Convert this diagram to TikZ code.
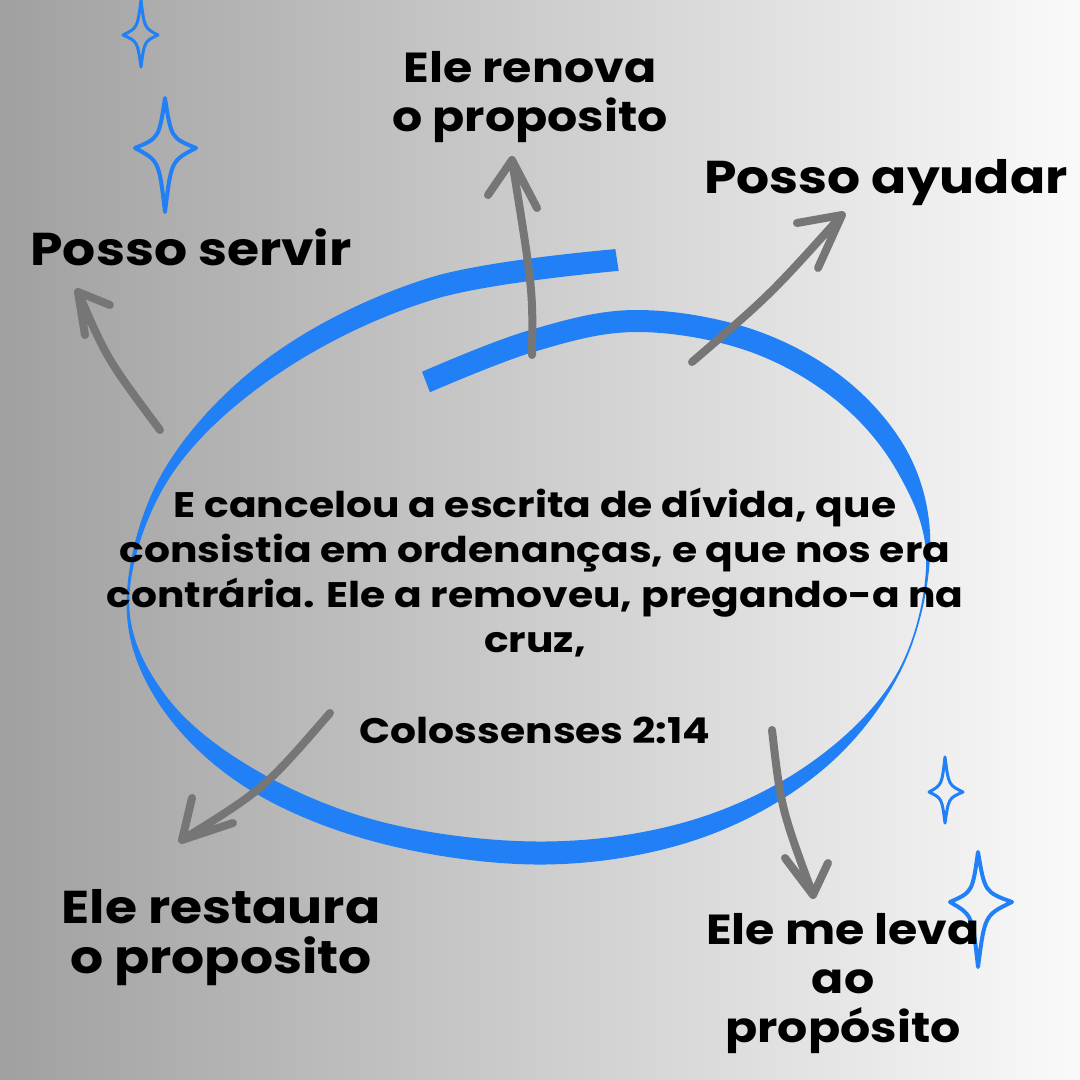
\documentclass[tikz,border=0pt]{standalone}
\usepackage{fontspec}
\setmainfont{Poppins}
\newfontfamily\tagfont{Poppins}[FakeStretch=1.13]
\newfontfamily\versefont{Poppins}[FakeStretch=1.15]
\usetikzlibrary{calc}

\definecolor{swirlblue}{RGB}{33,128,246}
\definecolor{arrowgray}{RGB}{118,118,118}
\definecolor{bgleft}{RGB}{160,160,160}
\definecolor{bgright}{RGB}{250,250,250}

\tikzset{
  tagtext/.style={font=\tagfont\fontsize{46}{50}\selectfont\bfseries, align=center, inner sep=0pt},
  smalltag/.style={tagtext, font=\tagfont\fontsize{42}{49}\selectfont\bfseries},
  versetext/.style={font=\versefont\fontsize{35.5}{45}\selectfont\bfseries, align=center, inner sep=0pt},
  curvearrow/.style={draw=arrowgray, line width=8pt, line cap=round, line join=round},
  sparkle/.style={draw=swirlblue, line cap=round, line join=round}
}

\begin{document}
\begin{tikzpicture}[x=1pt,y=-1pt]
	\useasboundingbox (0,0) rectangle (1080,1080);
	\shade[left color=bgleft, right color=bgright] (0,0) rectangle (1080,1080);
	% swirl: centre line as quarter arcs, points picked along it
	\path (617,260) coordinate (c0)
		.. controls (363,260) and (128,422) .. coordinate[pos=0.25] (c1) coordinate[pos=0.5] (c2) coordinate[pos=0.75] (c3) (128,598) coordinate (c4)
		.. controls (128,739) and (315,853) .. coordinate[pos=0.25] (c5) coordinate[pos=0.5] (c6) coordinate[pos=0.75] (c7) (545,853) coordinate (c8)
		.. controls (756,853) and (928,722) .. coordinate[pos=0.25] (c9) coordinate[pos=0.5] (c10) coordinate[pos=0.75] (c11) (928,560) coordinate (c12)
		.. controls (928,428) and (797,321) .. coordinate[pos=0.25] (c13) coordinate[pos=0.5] (c14) coordinate[pos=0.75] (c15) (635,321) coordinate (c16)
		.. controls (565,321) and (496,355) .. coordinate[pos=0.5] (c17) (426,382) coordinate (c18);
	\foreach \i/\p/\n/\w in {0/0/1/11, 1/0/2/11, 2/1/3/9.5, 3/2/4/4.5, 4/3/5/1.3, 5/4/6/5, 6/5/7/10, 7/6/8/10.5, 8/7/9/11.5, 9/8/10/10, 10/9/11/6.5, 11/10/12/1.2, 12/11/13/1.8, 13/12/14/9, 14/13/15/11, 15/14/16/11, 16/15/17/11, 17/16/18/11, 18/17/18/11}
	{
		\coordinate (u\i) at ($(c\p)!\w pt!90:(c\n)$);
		\coordinate (v\i) at ($(c\p)!\w pt!-90:(c\n)$);
		\coordinate (L\i) at ($(c\i)+(u\i)-(c\p)$);
		\coordinate (R\i) at ($(c\i)+(v\i)-(c\p)$);
	}
	\fill[swirlblue] plot[smooth, tension=0.6] coordinates {(L0) (L1) (L2) (L3) (L4) (L5) (L6) (L7) (L8) (L9) (L10) (L11) (L12) (L13) (L14) (L15) (L16) (L17) (L18)}
		-- plot[smooth, tension=0.6] coordinates {(R18) (R17) (R16) (R15) (R14) (R13) (R12) (R11) (R10) (R9) (R8) (R7) (R6) (R5) (R4) (R3) (R2) (R1) (R0)} -- cycle;
	% sparkles
	\foreach \cx/\cy/\u/\d/\l/\r/\lw in {141/35/35/32/18/17/3, 165/148/50/64/30/31/4, 945/792/35/31/16/18/3, 978/902/50/65/28/34/4}
		\draw[sparkle, line width=\lw pt] (\cx,\cy-\u) .. controls (\cx+0.2*\r,\cy-0.2*\u) .. (\cx+\r,\cy) .. controls (\cx+0.2*\r,\cy+0.2*\d) .. (\cx,\cy+\d) .. controls (\cx-0.2*\l,\cy+0.2*\d) .. (\cx-\l,\cy) .. controls (\cx-0.2*\l,\cy-0.2*\u) .. (\cx,\cy-\u) -- cycle;
	% arrows out of the swirl
	\coordinate (renovaFoot) at (532,355);
	\coordinate (renovaTip) at (512,160);
	\coordinate (ayudarFoot) at (692,362);
	\coordinate (ayudarTip) at (842,215);
	\coordinate (servirFoot) at (160,430);
	\coordinate (servirTip) at (78,292);
	\coordinate (restauraFoot) at (330,713);
	\coordinate (restauraTip) at (182,840);
	\coordinate (levaFoot) at (772,730);
	\coordinate (levaTip) at (813,895);
	\draw[curvearrow] (renovaFoot) .. controls (533,290) .. (renovaTip) -- +(-24,35) (renovaTip) -- +(25,48);
	\draw[curvearrow] (ayudarFoot) .. controls (770,295) .. (ayudarTip) -- +(-45,8) (ayudarTip) -- +(-24,53);
	\draw[curvearrow] (servirFoot) .. controls (107,359) .. (servirTip) -- +(32,13) (servirTip) -- +(7,43);
	\draw[curvearrow] (restauraFoot) .. controls (264,789) .. (restauraTip) -- +(10,-42) (restauraTip) -- +(51,-17);
	\draw[curvearrow] (levaFoot) .. controls (781,808) .. (levaTip) -- +(-28,-37) (levaTip) -- +(15,-32);
	% texts
	\node[smalltag] (renova) at (530,97) {Ele renova\\o proposito};
	\node[tagtext, anchor=base] (ayudar) at (886,193) {Posso ayudar};
	\node[tagtext, anchor=base] (servir) at (191,265) {Posso servir};
	\node[tagtext] (restaura) at (221,938) {Ele restaura\\o proposito};
	\node[smalltag] (leva) at (843,984) {Ele me leva\\ao\\propósito};
	\node[versetext] (verse) at (535,573) {E cancelou a escrita de dívida, que\\consistia em ordenanças, e que nos era\\contrária. Ele a removeu, pregando-a na\\cruz,};
	\node[versetext, anchor=base] (colossenses) at (535,743) {Colossenses 2:14};
\end{tikzpicture}
\end{document}
